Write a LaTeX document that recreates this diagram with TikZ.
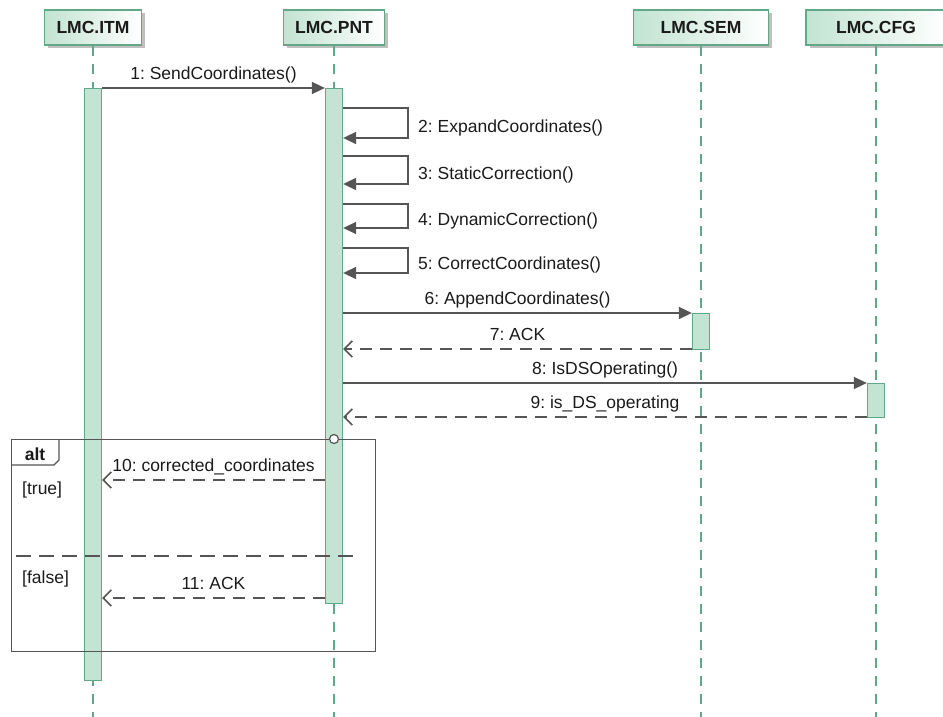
\documentclass[tikz,border=0pt]{standalone}
\usepackage{fontspec}
\setmainfont{Liberation Sans}
\usetikzlibrary{arrows.meta,shadows}
\frenchspacing

\definecolor{lmcborder}{HTML}{62A886}
\definecolor{lmcbar}{HTML}{C3E3D3}
\definecolor{lmchead}{HTML}{C2E3D2}
\definecolor{msggray}{HTML}{555555}
\definecolor{txtgray}{HTML}{1A1A1A}

\begin{document}
\begin{tikzpicture}[x=1pt, y=-1pt, font=\fontsize{17.5}{20}\selectfont, text=txtgray]
    \tikzstyle{head} = [draw=lmcborder, line width=1.3pt, left color=lmchead, right color=white, minimum height=35pt, inner sep=0pt, font=\fontsize{17.5}{20}\selectfont\bfseries, drop shadow={shadow xshift=3.5pt, shadow yshift=-3.5pt, fill=black!25, opacity=1}]
    \tikzstyle{lifeline} = [draw=lmcborder, line width=1.6pt, dash pattern=on 10pt off 8pt]
    \tikzstyle{actbar} = [draw=lmcborder, fill=lmcbar, line width=1.3pt, minimum width=17pt, inner sep=0pt, anchor=north]
    \tikzstyle{call} = [draw=msggray, line width=1.6pt, -{Triangle[length=13pt, width=12pt]}]
    \tikzstyle{reply} = [draw=msggray, line width=1.6pt, dash pattern=on 12pt off 8pt, -{Straight Barb[length=8pt, width=16pt]}]
    \tikzstyle{msglbl} = [anchor=base, yshift=8.5pt, inner sep=0pt]
    \tikzstyle{frame} = [draw=msggray, line width=1.4pt]
    \useasboundingbox (0,0) rectangle (943,717);

    % lifeline heads
    \node[head, minimum width=97pt] (itm) at (93,27.5) {LMC.ITM};
    \node[head, minimum width=101pt] (pnt) at (334,27.5) {LMC.PNT};
    \node[head, minimum width=135pt] (sem) at (701,27.5) {LMC.SEM};
    \node[head, minimum width=140pt] (cfg) at (876,27.5) {LMC.CFG};
    \foreach \obj in {itm, pnt, sem, cfg}
      \draw[lifeline] (\obj.south) -- (\obj.south |- 0,717);

    % activations
    \node[actbar, minimum height=592pt] (itmbar) at (itm.south |- 0,88) {};
    \node[actbar, minimum height=515pt] (pntbar) at (pnt.south |- 0,88) {};
    \node[actbar, minimum height=36pt] (sembar) at (sem.south |- 0,313) {};
    \node[actbar, minimum height=34pt] (cfgbar) at (cfg.south |- 0,383) {};

    % messages
    \draw[call] (itmbar.east |- 0,88) -- node[msglbl] {1: SendCoordinates()} (pntbar.west |- 0,88);
    \foreach \n/\ya/\yb/\txt in {2/108/138/ExpandCoordinates(), 3/156/184/StaticCorrection(), 4/204/228/DynamicCorrection(), 5/248/273/CorrectCoordinates()}
    {
      \draw[call] (pntbar.east |- 0,\ya) -- ++(65,0) |- (pntbar.east |- 0,\yb);
      \node[anchor=base west, inner sep=0pt] (self\n) at (418,{(\ya+\yb)/2+9}) {\n: \txt};
    }
    \draw[call] (pntbar.east |- 0,313) -- node[msglbl] {6: AppendCoordinates()} (sembar.west |- 0,313);
    \draw[reply] (sembar.west |- 0,349) -- node[msglbl] {7: ACK} (pntbar.east |- 0,349);
    \draw[call] (pntbar.east |- 0,383) -- node[msglbl] {8: IsDSOperating()} (cfgbar.west |- 0,383);
    \draw[reply] (cfgbar.west |- 0,417) -- node[msglbl] {9: is\_DS\_operating} (pntbar.east |- 0,417);

    % alt fragment
    \node[frame, minimum width=364pt, minimum height=212pt, anchor=north west, inner sep=0pt] (altbox) at (11,439) {};
    \draw[frame] (altbox.north west) ++(48,0) -- ++(0,21) -- ++(-5,5) -- (altbox.north west |- 0,465);
    \node[font=\fontsize{17.5}{20}\selectfont\bfseries, anchor=base] (altlbl) at (35,460) {alt};
    \node[circle, draw=msggray, line width=1.2pt, fill=white, inner sep=0pt, minimum size=9pt] (altstart) at (pnt.south |- altbox.north) {};
    \draw[frame, dash pattern=on 15pt off 8pt] (16,556) -- (358,556);
    \node[anchor=base west, inner sep=0pt] (guardtrue) at (22,494) {[true]};
    \node[anchor=base west, inner sep=0pt] (guardfalse) at (22,583) {[false]};
    \draw[reply] (pntbar.west |- 0,480) -- node[msglbl] {10: corrected\_coordinates} (itmbar.east |- 0,480);
    \draw[reply] (pntbar.west |- 0,598) -- node[msglbl] {11: ACK} (itmbar.east |- 0,598);
\end{tikzpicture}
\end{document}
